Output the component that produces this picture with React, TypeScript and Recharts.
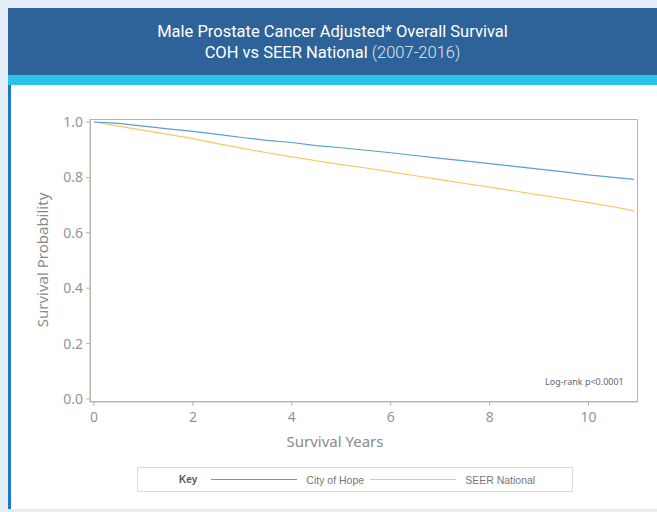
import { LineChart, Line, XAxis, YAxis } from "recharts";

const years = [0, 0.5, 1, 1.5, 2, 2.5, 3, 3.5, 4, 4.5, 5, 5.5, 6, 6.5, 7, 7.5, 8, 8.5, 9, 9.5, 10, 10.5, 10.92];
const cityOfHope = [1.0, 0.995, 0.985, 0.975, 0.966, 0.955, 0.944, 0.934, 0.926, 0.915, 0.907, 0.898, 0.889, 0.879, 0.869, 0.86, 0.85, 0.84, 0.83, 0.82, 0.809, 0.8, 0.793];
const seerNational = [1.0, 0.985, 0.97, 0.955, 0.94, 0.922, 0.905, 0.889, 0.874, 0.86, 0.846, 0.834, 0.82, 0.806, 0.792, 0.778, 0.765, 0.751, 0.737, 0.723, 0.709, 0.694, 0.679];
const xTicks = [0, 2, 4, 6, 8, 10];
const yTicks = [0, 0.2, 0.4, 0.6, 0.8, 1.0];

const data = years.map((t, i) => ({ t, coh: cityOfHope[i], seer: seerNational[i] }));

const AXIS = "#b9b5aa";
const TICK = { fill: "#959595", fontSize: 14, fontFamily: "Noto Sans" };
const BLUE = "#5b9fd3";
const YELLOW = "#f6c85e";

// chart geometry
const CW = 657;
const CH = 430;
const M = { top: 119, right: 19, left: 0, bottom: 0 };
const Y_W = 90;
const X_H = 28;

export default function App() {
  return (
    <div
      style={{
        position: "absolute",
        left: 0,
        top: 0,
        width: 657,
        height: 512,
        background: "#e3eef9",
        overflow: "hidden",
        fontFamily: "Roboto, sans-serif",
      }}
    >
      {/* header */}
      <div
        style={{
          position: "absolute",
          left: 8,
          top: 8,
          width: 649,
          height: 67,
          background: "#2d6399",
          color: "#fff",
          textAlign: "center",
          fontSize: 16.5,
          lineHeight: "21px",
          paddingTop: 13,
          boxSizing: "border-box",
        }}
      >
        <div>Male Prostate Cancer Adjusted* Overall Survival</div>
        <div>
          COH vs SEER National <span style={{ fontWeight: 300, color: "#dfe8f2" }}>(2007-2016)</span>
        </div>
      </div>
      <div style={{ position: "absolute", left: 8, top: 75, width: 649, height: 10, background: "#2bc3e9" }} />
      {/* panel */}
      <div
        style={{
          position: "absolute",
          left: 8,
          top: 85,
          width: 649,
          height: 424,
          background: "#fff",
          borderLeft: "3px solid #1f78c8",
          boxSizing: "border-box",
        }}
      />
      {/* plot frame */}
      <div
        style={{
          position: "absolute",
          left: M.left + Y_W,
          top: M.top,
          width: CW - M.left - M.right - Y_W,
          height: CH - M.top - M.bottom - X_H,
          border: `1px solid ${AXIS}`,
          boxSizing: "border-box",
        }}
      />
      <div style={{ position: "absolute", left: 0, top: 0 }}>
        <LineChart width={CW} height={CH} data={data} margin={M}>
          <XAxis
            dataKey="t"
            type="number"
            domain={[0, 11]}
            ticks={xTicks}
            padding={{ left: 4, right: 0 }}
            height={X_H}
            tick={TICK}
            tickLine={{ stroke: AXIS }}
            tickSize={4}
            tickMargin={6}
            axisLine={{ stroke: AXIS }}
          />
          <YAxis
            type="number"
            domain={[0, 1]}
            ticks={yTicks}
            padding={{ top: 3, bottom: 3 }}
            width={Y_W}
            tick={TICK}
            tickLine={{ stroke: AXIS }}
            tickSize={4}
            tickMargin={3}
            tickFormatter={(v: number) => v.toFixed(1)}
            axisLine={{ stroke: AXIS }}
          />
          <Line
            dataKey="seer"
            stroke={YELLOW}
            strokeWidth={1.2}
            dot={false}
            isAnimationActive={false}
          />
          <Line
            dataKey="coh"
            stroke={BLUE}
            strokeWidth={1.2}
            dot={false}
            isAnimationActive={false}
          />
        </LineChart>
      </div>
      {/* axis titles */}
      <div
        style={{
          position: "absolute",
          left: 42,
          top: 260,
          transform: "translate(-50%, -50%) rotate(-90deg)",
          whiteSpace: "nowrap",
          color: "#8a8a8a",
          fontSize: 15,
          fontFamily: "Noto Sans",
        }}
      >
        Survival Probability
      </div>
      <div
        style={{
          position: "absolute",
          left: 335,
          top: 441,
          transform: "translate(-50%, -50%)",
          whiteSpace: "nowrap",
          color: "#8a8a8a",
          fontSize: 15,
          fontFamily: "Noto Sans",
        }}
      >
        Survival Years
      </div>
      <div
        style={{
          position: "absolute",
          left: 545,
          top: 375,
          fontSize: 9,
          color: "#666",
          fontFamily: "Noto Sans",
          whiteSpace: "nowrap",
        }}
      >
        Log-rank p&lt;0.0001
      </div>
      {/* legend */}
      <div
        style={{
          position: "absolute",
          left: 137,
          top: 467,
          width: 436,
          height: 25,
          border: "1px solid #dcdcdc",
          boxSizing: "border-box",
          display: "flex",
          alignItems: "center",
          fontFamily: "'Liberation Sans', Arial, sans-serif",
          fontSize: 10.5,
          color: "#777",
        }}
      >
        <span style={{ marginLeft: 41, fontWeight: "bold", color: "#555", fontSize: 10 }}>Key</span>
        <span style={{ marginLeft: 14, width: 86, height: 1, background: BLUE }} />
        <span style={{ marginLeft: 9 }}>City of Hope</span>
        <span style={{ marginLeft: 6, width: 86, height: 1, background: YELLOW }} />
        <span style={{ marginLeft: 9 }}>SEER National</span>
      </div>
    </div>
  );
}
